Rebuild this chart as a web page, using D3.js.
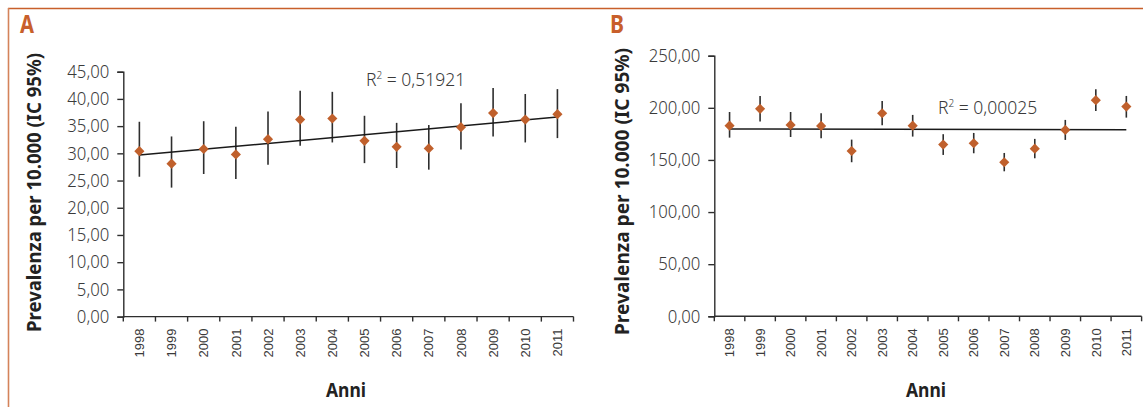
<!DOCTYPE html>
<html>
<head>
<meta charset="utf-8">
<script src="https://cdn.jsdelivr.net/npm/d3@7/dist/d3.min.js"></script>
<style>
  html, body { margin: 0; padding: 0; background: #fff; }
  svg { display: block; }
</style>
</head>
<body>
<svg id="chart" width="1143" height="407"></svg>
<script>
// ---------------- DATA ----------------
const years = ["1998","1999","2000","2001","2002","2003","2004","2005","2006","2007","2008","2009","2010","2011"];

// Panel A
const prevA  = [30.4, 28.1, 30.8, 29.8, 32.6, 36.2, 36.4, 32.3, 31.2, 30.9, 34.8, 37.4, 36.2, 37.2];
const lowA   = [25.7, 23.7, 26.2, 25.3, 27.9, 31.4, 32.0, 28.2, 27.3, 27.0, 30.7, 33.1, 32.0, 32.8];
const highA  = [35.8, 33.1, 35.9, 34.9, 37.7, 41.5, 41.3, 36.9, 35.6, 35.2, 39.2, 42.0, 40.9, 41.8];
const ticksA = [0, 5, 10, 15, 20, 25, 30, 35, 40, 45];
const r2A = "0,51921";

// Panel B
const prevB  = [182.9, 199.0, 183.6, 182.6, 158.6, 194.8, 182.9, 164.7, 166.0, 147.8, 160.8, 178.8, 207.3, 201.2];
const lowB   = [171.4, 186.8, 172.0, 170.8, 147.8, 183.3, 172.4, 154.8, 156.4, 139.1, 151.6, 169.2, 197.0, 190.6];
const highB  = [196.0, 211.4, 196.0, 194.8, 169.5, 206.6, 193.2, 174.7, 175.9, 156.7, 170.2, 188.4, 217.8, 211.4];
const ticksB = [0, 50, 100, 150, 200, 250];
const r2B = "0,00025";

const panelLetters = ["A", "B"];
const yTitle = "Prevalenza per 10.000 (IC 95%)";
const xTitle = "Anni";

// ---------------- STYLE / LAYOUT ----------------
const ORANGE = "#c85f2b";
const MARK = "#c0602c";
const INK = "#2e2e2e";
const TXT = "#3a3a3a";

const panels = [
  { letter: panelLetters[0], vals: prevA, lo: lowA, hi: highA, ticks: ticksA, yMax: 45, r2: r2A,
    x0: 123.3, x1: 573.5, yTop: 71.7, yBot: 316.6,
    letterX: 20, letterY: 33,
    titleX: 41, titleY: 192.5, titleSize: 19, titleLen: 279,
    r2X: 366, r2Y: 86, anniX: 346, anniY: 397 },
  { letter: panelLetters[1], vals: prevB, lo: lowB, hi: highB, ticks: ticksB, yMax: 250, r2: r2B,
    x0: 714.3, x1: 1141.6, yTop: 55.7, yBot: 316.3,
    letterX: 610, letterY: 33,
    titleX: 629, titleY: 191.5, titleSize: 20, titleLen: 287,
    r2X: 938, r2Y: 114, anniX: 926, anniY: 397 }
];

const itLocale = d3.formatLocale({ decimal: ",", thousands: ".", grouping: [3], currency: ["", "€"] });
const fmt = itLocale.format(".2f");

const svg = d3.select("#chart");

// frame
svg.append("line").attr("x1", 8).attr("x2", 1143).attr("y1", 8.5).attr("y2", 8.5)
  .attr("stroke", ORANGE).attr("stroke-width", 1.6);
svg.append("line").attr("x1", 8.5).attr("x2", 8.5).attr("y1", 8).attr("y2", 407)
  .attr("stroke", "#d4835a").attr("stroke-width", 1.6);

function linreg(ys) {
  const n = ys.length;
  const xs = d3.range(n);
  const mx = d3.mean(xs), my = d3.mean(ys);
  let sxy = 0, sxx = 0;
  xs.forEach((x, i) => { sxy += (x - mx) * (ys[i] - my); sxx += (x - mx) * (x - mx); });
  const b = sxy / sxx;
  return { a: my - b * mx, b };
}

panels.forEach(p => {
  const g = svg.append("g");

  const x = d3.scaleBand().domain(years).range([p.x0, p.x1]).padding(0);
  const y = d3.scaleLinear().domain([0, p.yMax]).range([p.yBot, p.yTop]);

  // Panel letter
  g.append("text").attr("x", p.letterX).attr("y", p.letterY)
    .attr("font-family", "Noto Sans, sans-serif").attr("font-weight", "bold")
    .attr("font-size", 25).attr("fill", ORANGE)
    .attr("textLength", 14).attr("lengthAdjust", "spacingAndGlyphs")
    .text(p.letter);

  // Y axis
  const yAxis = d3.axisLeft(y).tickValues(p.ticks).tickFormat(fmt).tickSize(6).tickPadding(8);
  const ya = g.append("g").attr("transform", `translate(${p.x0},0)`).call(yAxis);
  ya.select(".domain").attr("stroke", INK).attr("stroke-width", 1.4);
  ya.selectAll(".tick line").attr("stroke", INK).attr("stroke-width", 1.4);
  ya.selectAll(".tick text").attr("font-family", "Noto Sans, sans-serif")
    .attr("font-size", 18).attr("fill", TXT).attr("font-weight", 300)
    .attr("textLength", function() { return this.getComputedTextLength() * 0.93; })
    .attr("lengthAdjust", "spacingAndGlyphs");

  // X axis with ticks at band boundaries
  const xa = g.append("g").attr("transform", `translate(0,${p.yBot})`);
  xa.append("line").attr("x1", p.x0).attr("x2", p.x1).attr("y1", 0).attr("y2", 0)
    .attr("stroke", INK).attr("stroke-width", 1.4);
  const bounds = years.map(d => x(d)).concat([x(years[years.length - 1]) + x.bandwidth()]);
  xa.selectAll("line.tk").data(bounds).join("line").attr("class", "tk")
    .attr("x1", d => d).attr("x2", d => d).attr("y1", 0).attr("y2", 5)
    .attr("stroke", INK).attr("stroke-width", 1.4);
  xa.selectAll("text.yl").data(years).join("text").attr("class", "yl")
    .attr("transform", d => `translate(${x(d) + x.bandwidth() / 2},12) rotate(-90)`)
    .attr("text-anchor", "end").attr("dy", "0.36em")
    .attr("font-family", "Liberation Sans, Arial, sans-serif").attr("font-size", 13)
    .attr("fill", TXT).text(d => d);

  // Y title
  g.append("text")
    .attr("transform", `translate(${p.titleX},${p.titleY}) rotate(-90)`)
    .attr("text-anchor", "middle")
    .attr("font-family", "Noto Sans, sans-serif").attr("font-weight", "bold")
    .attr("font-size", p.titleSize).attr("fill", "#222")
    .attr("textLength", p.titleLen).attr("lengthAdjust", "spacingAndGlyphs")
    .text(yTitle);

  // X title
  g.append("text").attr("x", p.anniX).attr("y", p.anniY).attr("text-anchor", "middle")
    .attr("font-family", "Noto Sans, sans-serif").attr("font-weight", "bold")
    .attr("font-size", 20).attr("fill", "#222")
    .attr("textLength", 40).attr("lengthAdjust", "spacingAndGlyphs")
    .text(xTitle);

  const cx = i => x(years[i]) + x.bandwidth() / 2;

  // Error bars
  g.selectAll("line.err").data(p.vals).join("line").attr("class", "err")
    .attr("x1", (d, i) => cx(i)).attr("x2", (d, i) => cx(i))
    .attr("y1", (d, i) => y(p.lo[i])).attr("y2", (d, i) => y(p.hi[i]))
    .attr("stroke", INK).attr("stroke-width", 1.6);

  // Trend line (least squares)
  const reg = linreg(p.vals);
  const n = p.vals.length;
  g.append("line")
    .attr("x1", cx(0)).attr("y1", y(reg.a))
    .attr("x2", cx(n - 1)).attr("y2", y(reg.a + reg.b * (n - 1)))
    .attr("stroke", "#1a1a1a").attr("stroke-width", 1.5);

  // Diamonds
  const sym = d3.symbol().type(d3.symbolDiamond2).size(66);
  g.selectAll("path.pt").data(p.vals).join("path").attr("class", "pt")
    .attr("transform", (d, i) => `translate(${cx(i)},${y(d)})`)
    .attr("d", sym).attr("fill", MARK);

  // R² label
  const t = g.append("text").attr("x", p.r2X).attr("y", p.r2Y)
    .attr("font-family", "Noto Sans, sans-serif").attr("font-size", 17.5)
    .attr("font-weight", 300).attr("fill", TXT);
  t.append("tspan").text("R");
  t.append("tspan").attr("font-size", 10).attr("dy", -7).text("2");
  t.append("tspan").attr("dy", 7).text(" = " + p.r2);
});
</script>
</body>
</html>
